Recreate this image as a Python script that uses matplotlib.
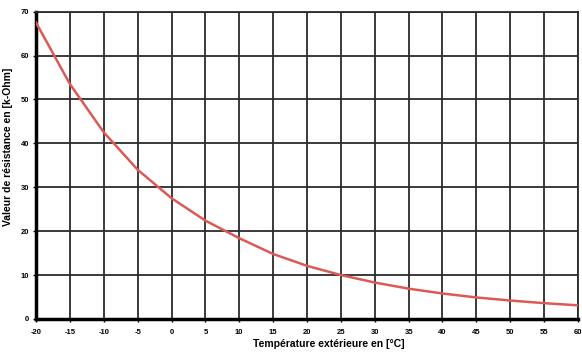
import numpy as np
import matplotlib.pyplot as plt

temperature = [-20, -15, -10, -5, 0, 5, 10, 15, 20, 25, 30, 35, 40, 45, 50, 55, 60]
resistance = [67.5, 53.5, 42.5, 34.0, 27.5, 22.4, 18.4, 14.8, 12.1, 10.0,
              8.3, 6.9, 5.8, 4.9, 4.2, 3.6, 3.1]

x_ticks = np.arange(-20, 61, 5)
y_ticks = np.arange(0, 71, 10)

plt.rcParams['font.family'] = ['Liberation Sans', 'DejaVu Sans']
plt.rcParams['axes.unicode_minus'] = False

fig = plt.figure(figsize=(5.82, 3.54), dpi=100)
ax = fig.add_axes([0.062, 0.099, 0.931, 0.868])

ax.plot(temperature, resistance, color='#dc5a55', lw=1.8, zorder=3)

ax.set_xlim(-20, 60)
ax.set_ylim(0, 70)
ax.set_xticks(x_ticks)
ax.set_yticks(y_ticks)
ax.grid(True, color='#2b2b2b', lw=1.3)
ax.set_axisbelow(True)

for side in ['top', 'right']:
    ax.spines[side].set_color('#2b2b2b')
    ax.spines[side].set_linewidth(1.3)
for side in ['left', 'bottom']:
    ax.spines[side].set_color('black')
    ax.spines[side].set_linewidth(2.5)

ax.tick_params(axis='both', length=2, width=1, labelsize=5.5)
ax.tick_params(axis='x', pad=5)
ax.tick_params(axis='y', pad=3)
for lab in ax.get_xticklabels() + ax.get_yticklabels():
    lab.set_fontweight('bold')

ax.set_xlabel('Température extérieure en [°C]', fontsize=7.5, fontweight='bold')
ax.xaxis.set_label_coords(0.54, -0.065)
ax.set_ylabel('Valeur de résistance en [k-Ohm]', fontsize=7.5, fontweight='bold')
ax.yaxis.set_label_coords(-0.043, 0.56)

fig.savefig('out.png', dpi=100)
